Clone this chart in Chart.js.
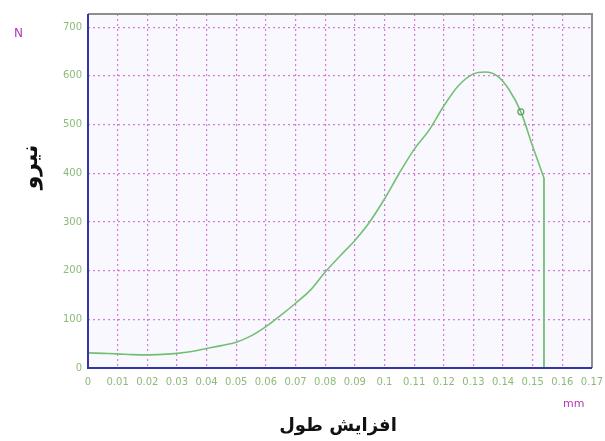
<!DOCTYPE html>
<html>
<head>
<meta charset="utf-8">
<script src="https://cdn.jsdelivr.net/npm/chart.js@4/dist/chart.umd.min.js"></script>
<style>
    html, body { margin: 0; padding: 0; background: #ffffff; }
    #wrap { width: 605px; height: 441px; position: relative; }
</style>
</head>
<body>
<div id="wrap"><canvas id="chart" width="605" height="441"></canvas></div>
<script>
// elongation (mm) and force (N)
const elongation = [0, 0.005, 0.01, 0.015, 0.02, 0.025, 0.03, 0.035, 0.04, 0.045, 0.05, 0.055, 0.06, 0.065,
    0.07, 0.075, 0.08, 0.085, 0.09, 0.095, 0.1, 0.105, 0.11, 0.115, 0.12, 0.125, 0.13, 0.134, 0.138,
    0.142, 0.146, 0.15, 0.1538];
const force = [31, 30, 29, 27.5, 27, 28, 30, 34, 40, 46, 53, 66, 85, 108,
    133, 160, 197, 230, 262, 300, 347, 400, 449, 488, 538, 580, 604, 608, 600,
    572, 526, 455, 390];
// break: straight drop back to zero
const breakX = [0.1538, 0.1538];
const breakY = [390, 0];
// marked point on the curve
const markerX = 0.146;

const xTicks = [0, 0.01, 0.02, 0.03, 0.04, 0.05, 0.06, 0.07, 0.08, 0.09, 0.1, 0.11, 0.12, 0.13, 0.14, 0.15, 0.16, 0.17];
const yTicks = [0, 100, 200, 300, 400, 500, 600, 700];

const xTitle = 'افزایش طول';
const yTitle = 'نیرو';
const xUnit = 'mm';
const yUnit = 'N';

const lineColor = '#72c072';
const tickColor = '#8cbb78';
const magenta = '#b436b4';
const gridColor = '#d97ad9';

const curve = elongation.map((x, i) => ({ x, y: force[i] }));
const drop = breakX.map((x, i) => ({ x, y: breakY[i] }));

const framePlugin = {
    id: 'frame',
    beforeDraw(chart) {
        const { ctx, chartArea: a } = chart;
        ctx.save();
        ctx.fillStyle = '#f9f8ff';
        ctx.fillRect(a.left, a.top, a.right - a.left, a.bottom - a.top);
        ctx.restore();
    },
    afterDatasetsDraw(chart) {
        const { ctx, chartArea: a } = chart;
        ctx.save();
        ctx.lineWidth = 2;
        ctx.strokeStyle = '#8e8e8e';
        ctx.beginPath();
        ctx.moveTo(a.left, a.top);
        ctx.lineTo(a.right, a.top);
        ctx.lineTo(a.right, a.bottom);
        ctx.stroke();
        ctx.strokeStyle = '#3434a4';
        ctx.beginPath();
        ctx.moveTo(a.left, a.top);
        ctx.lineTo(a.left, a.bottom);
        ctx.lineTo(a.right, a.bottom);
        ctx.stroke();

        ctx.fillStyle = magenta;
        ctx.font = '12px "DejaVu Sans"';
        ctx.textAlign = 'left';
        ctx.textBaseline = 'middle';
        ctx.fillText(yUnit, 14, 34);
        ctx.font = '11px "DejaVu Sans"';
        ctx.fillText(xUnit, 563, 404);

        ctx.fillStyle = '#111111';
        ctx.textAlign = 'center';
        ctx.font = 'bold 18px "DejaVu Sans"';
        ctx.fillText(xTitle, 338, 426);

        ctx.translate(31, 167);
        ctx.rotate(-Math.PI / 2);
        ctx.font = 'bold 22px "DejaVu Sans"';
        ctx.fillText(yTitle, 0, 0);
        ctx.restore();
    }
};

new Chart(document.getElementById('chart'), {
    type: 'scatter',
    data: {
        datasets: [
            {
                data: curve,
                showLine: true,
                borderColor: lineColor,
                borderWidth: 1.6,
                cubicInterpolationMode: 'monotone',
                pointRadius: (ctx) => (elongation[ctx.dataIndex] === markerX ? 3 : 0),
                pointBorderColor: '#5aa05a',
                pointBorderWidth: 1.2,
                pointBackgroundColor: 'rgba(0,0,0,0)'
            },
            {
                data: drop,
                showLine: true,
                borderColor: lineColor,
                borderWidth: 1.8,
                pointRadius: 0
            }
        ]
    },
    options: {
        responsive: false,
        animation: false,
        layout: { padding: { left: 0, right: 13, top: 14, bottom: 0 } },
        plugins: { legend: { display: false }, tooltip: { enabled: false } },
        scales: {
            x: {
                type: 'linear',
                min: 0,
                max: 0.17,
                afterFit(scale) {
                    scale.height = 73;
                    scale.paddingLeft = 0;
                    scale.paddingRight = 0;
                },
                afterBuildTicks(scale) { scale.ticks = xTicks.map((v) => ({ value: v })); },
                ticks: {
                    color: tickColor,
                    font: { family: 'DejaVu Sans', size: 10 },
                    padding: 8,
                    maxRotation: 0,
                    autoSkip: false,
                    callback: (v) => String(Number(v.toFixed(2)))
                },
                grid: { color: gridColor, lineWidth: 1.2, drawTicks: false },
                border: { display: false, dash: [2, 3] }
            },
            y: {
                type: 'linear',
                min: 0,
                max: 727,
                afterFit(scale) { scale.width = 88; },
                afterBuildTicks(scale) { scale.ticks = yTicks.map((v) => ({ value: v })); },
                ticks: {
                    color: tickColor,
                    font: { family: 'DejaVu Sans', size: 10 },
                    padding: 6
                },
                grid: { color: gridColor, lineWidth: 1.2, drawTicks: false },
                border: { display: false, dash: [2, 3] }
            }
        }
    },
    plugins: [framePlugin]
});
</script>
</body>
</html>
